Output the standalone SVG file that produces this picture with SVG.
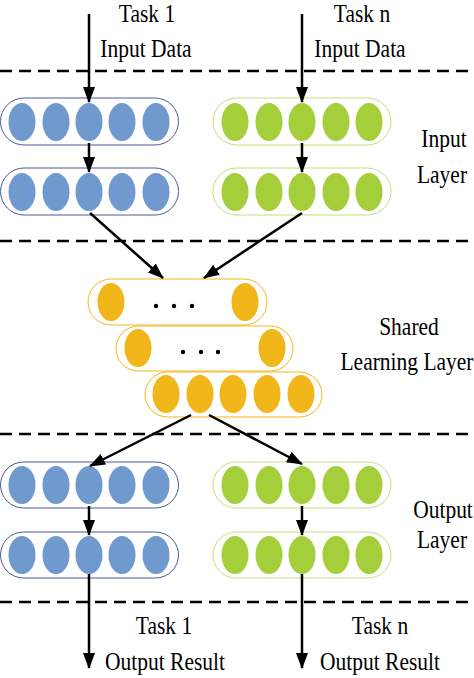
<svg xmlns="http://www.w3.org/2000/svg" width="474" height="678" viewBox="0 0 474 678">
<style>
.t{font-family:"Liberation Serif","Times New Roman",serif;font-size:21.5px;fill:#000;text-anchor:middle}
.dash{stroke:#000;stroke-width:2.5;stroke-dasharray:12 7;fill:none}
.pb{fill:#fff;stroke:#4a5a94;stroke-width:1}
.pg{fill:#fff;stroke:#c3df78;stroke-width:1}
.po{fill:#fff;stroke:#f1b71a;stroke-width:1}
.eb{fill:#7099cd}
.eg{fill:#a5cf3a}
.eo{fill:#f1b71a}
.ar{stroke:#000;stroke-width:2.5;fill:none;marker-end:url(#ah)}
</style>
<defs>
<marker id="ah" markerUnits="userSpaceOnUse" markerWidth="16" markerHeight="12" refX="15" refY="6" orient="auto">
<path d="M0,0 L16,6 L0,12 Z" fill="#000"/>
</marker>
</defs>
<rect width="474" height="678" fill="#fff"/>
<g id="dashes">
<line class="dash" x1="0" y1="71" x2="474" y2="71"/>
<line class="dash" x1="0" y1="241" x2="474" y2="241"/>
<line class="dash" x1="0" y1="434" x2="474" y2="434"/>
<line class="dash" x1="0" y1="602" x2="474" y2="602"/>
</g>
<g id="labels">
<text class="t" transform="translate(147,22) scale(1,1.18)">Task 1</text>
<text class="t" transform="translate(146,57) scale(1,1.18)">Input Data</text>
<text class="t" transform="translate(362,22) scale(1,1.18)">Task n</text>
<text class="t" transform="translate(360,57) scale(1,1.18)">Input Data</text>
<text class="t" transform="translate(444,147) scale(1,1.18)">Input</text>
<text class="t" transform="translate(442,183) scale(1,1.18)">Layer</text>
<text class="t" transform="translate(409,335) scale(1,1.18)">Shared</text>
<text class="t" transform="translate(407,370) scale(1,1.18)">Learning Layer</text>
<text class="t" transform="translate(443,518) scale(1,1.18)">Output</text>
<text class="t" transform="translate(442,548) scale(1,1.18)">Layer</text>
<text class="t" transform="translate(164,634) scale(1,1.18)">Task 1</text>
<text class="t" transform="translate(165,670) scale(1,1.18)">Output Result</text>
<text class="t" transform="translate(380,634) scale(1,1.18)">Task n</text>
<text class="t" transform="translate(380,670) scale(1,1.18)">Output Result</text>
</g>
<g id="in-blue-1">
<rect class="pb" x="0.5" y="98" width="178" height="47" rx="23.5"/>
<ellipse class="eb" cx="22" cy="122" rx="13.5" ry="19"/><ellipse class="eb" cx="56" cy="122" rx="13.5" ry="19"/><ellipse class="eb" cx="89" cy="122" rx="13.5" ry="19"/><ellipse class="eb" cx="122" cy="122" rx="13.5" ry="19"/><ellipse class="eb" cx="156" cy="122" rx="13.5" ry="19"/>
</g>
<g id="in-blue-2">
<rect class="pb" x="0.5" y="168" width="178" height="47" rx="23.5"/>
<ellipse class="eb" cx="22" cy="192" rx="13.5" ry="19"/><ellipse class="eb" cx="56" cy="192" rx="13.5" ry="19"/><ellipse class="eb" cx="89" cy="192" rx="13.5" ry="19"/><ellipse class="eb" cx="122" cy="192" rx="13.5" ry="19"/><ellipse class="eb" cx="156" cy="192" rx="13.5" ry="19"/>
</g>
<g id="in-green-1">
<rect class="pg" x="213" y="98" width="178" height="47" rx="23.5"/>
<ellipse class="eg" cx="235" cy="122" rx="13.5" ry="19"/><ellipse class="eg" cx="269" cy="122" rx="13.5" ry="19"/><ellipse class="eg" cx="302" cy="122" rx="13.5" ry="19"/><ellipse class="eg" cx="336" cy="122" rx="13.5" ry="19"/><ellipse class="eg" cx="369" cy="122" rx="13.5" ry="19"/>
</g>
<g id="in-green-2">
<rect class="pg" x="213" y="168" width="178" height="47" rx="23.5"/>
<ellipse class="eg" cx="235" cy="192" rx="13.5" ry="19"/><ellipse class="eg" cx="269" cy="192" rx="13.5" ry="19"/><ellipse class="eg" cx="302" cy="192" rx="13.5" ry="19"/><ellipse class="eg" cx="336" cy="192" rx="13.5" ry="19"/><ellipse class="eg" cx="369" cy="192" rx="13.5" ry="19"/>
</g>
<g id="shared-1">
<rect class="po" x="88" y="279" width="179" height="46" rx="23"/>
<ellipse class="eo" cx="111" cy="302" rx="13.5" ry="19"/><ellipse class="eo" cx="245" cy="302" rx="13.5" ry="19"/>
<circle cx="156" cy="306" r="2.2"/><circle cx="174" cy="306" r="2.2"/><circle cx="192" cy="306" r="2.2"/>
</g>
<g id="shared-2">
<rect class="po" x="116" y="326" width="177" height="45" rx="22.5"/>
<ellipse class="eo" cx="138" cy="348" rx="13.5" ry="19"/><ellipse class="eo" cx="272" cy="348" rx="13.5" ry="19"/>
<circle cx="183" cy="352" r="2.2"/><circle cx="201" cy="352" r="2.2"/><circle cx="218" cy="352" r="2.2"/>
</g>
<g id="shared-3">
<rect class="po" x="145" y="372" width="177" height="45" rx="22.5"/>
<ellipse class="eo" cx="166" cy="394" rx="13.5" ry="19"/><ellipse class="eo" cx="200" cy="394" rx="13.5" ry="19"/><ellipse class="eo" cx="233" cy="394" rx="13.5" ry="19"/><ellipse class="eo" cx="267" cy="394" rx="13.5" ry="19"/><ellipse class="eo" cx="301" cy="394" rx="13.5" ry="19"/>
</g>
<g id="out-blue-1">
<rect class="pb" x="0.5" y="462" width="178" height="46" rx="23"/>
<ellipse class="eb" cx="22" cy="485" rx="13.5" ry="19"/><ellipse class="eb" cx="56" cy="485" rx="13.5" ry="19"/><ellipse class="eb" cx="89" cy="485" rx="13.5" ry="19"/><ellipse class="eb" cx="122" cy="485" rx="13.5" ry="19"/><ellipse class="eb" cx="156" cy="485" rx="13.5" ry="19"/>
</g>
<g id="out-blue-2">
<rect class="pb" x="0.5" y="532" width="178" height="46" rx="23"/>
<ellipse class="eb" cx="22" cy="555" rx="13.5" ry="19"/><ellipse class="eb" cx="56" cy="555" rx="13.5" ry="19"/><ellipse class="eb" cx="89" cy="555" rx="13.5" ry="19"/><ellipse class="eb" cx="122" cy="555" rx="13.5" ry="19"/><ellipse class="eb" cx="156" cy="555" rx="13.5" ry="19"/>
</g>
<g id="out-green-1">
<rect class="pg" x="213" y="462" width="178" height="46" rx="23"/>
<ellipse class="eg" cx="235" cy="485" rx="13.5" ry="19"/><ellipse class="eg" cx="269" cy="485" rx="13.5" ry="19"/><ellipse class="eg" cx="302" cy="485" rx="13.5" ry="19"/><ellipse class="eg" cx="336" cy="485" rx="13.5" ry="19"/><ellipse class="eg" cx="369" cy="485" rx="13.5" ry="19"/>
</g>
<g id="out-green-2">
<rect class="pg" x="213" y="532" width="178" height="46" rx="23"/>
<ellipse class="eg" cx="235" cy="555" rx="13.5" ry="19"/><ellipse class="eg" cx="269" cy="555" rx="13.5" ry="19"/><ellipse class="eg" cx="302" cy="555" rx="13.5" ry="19"/><ellipse class="eg" cx="336" cy="555" rx="13.5" ry="19"/><ellipse class="eg" cx="369" cy="555" rx="13.5" ry="19"/>
</g>
<g id="connectors">
<line class="ar" x1="89" y1="14" x2="89" y2="102"/>
<line class="ar" x1="302" y1="14" x2="302" y2="102"/>
<line class="ar" x1="89" y1="143" x2="89" y2="172"/>
<line class="ar" x1="302" y1="143" x2="302" y2="172"/>
<line class="ar" x1="90" y1="213" x2="163" y2="278"/>
<line class="ar" x1="302" y1="213" x2="204" y2="278"/>
<line class="ar" x1="191" y1="415" x2="90" y2="466"/>
<line class="ar" x1="209" y1="415" x2="302" y2="464"/>
<line class="ar" x1="89" y1="506" x2="89" y2="535"/>
<line class="ar" x1="302" y1="506" x2="302" y2="535"/>
<line class="ar" x1="89" y1="574" x2="89" y2="668"/>
<line class="ar" x1="302" y1="574" x2="302" y2="668"/>
</g>
</svg>
